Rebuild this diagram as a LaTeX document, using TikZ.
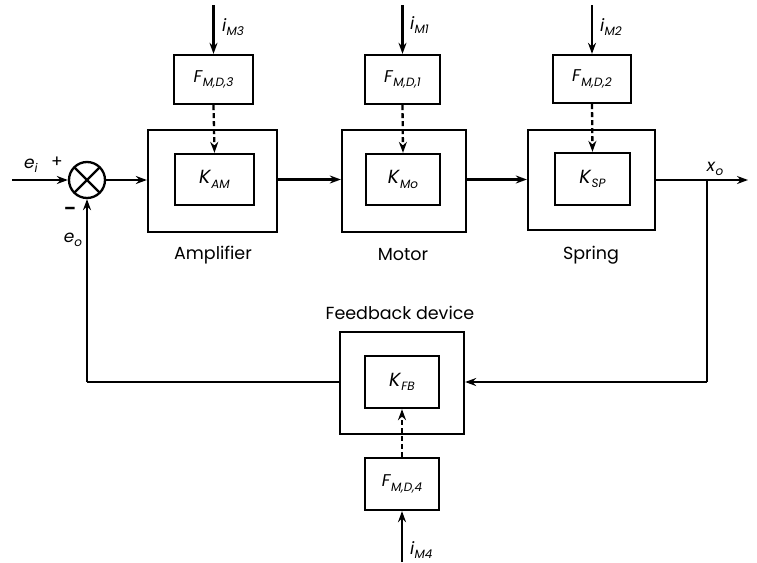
\documentclass[tikz,border=0pt]{standalone}
\usepackage{fontspec}
\setmainfont{Poppins}
\usetikzlibrary{arrows.meta,positioning}
\newcommand{\sym}[2]{\textit{#1}\raisebox{-0.45ex}{\fontsize{12}{12}\selectfont\textit{#2}}}
\begin{document}
\begin{tikzpicture}[x=1pt,y=-1pt,
  line width=2.3pt,
  >={Stealth[length=11pt,width=8pt]},
  outerbox/.style={draw,minimum width=#1,minimum height=102pt,inner sep=0pt},
  innerbox/.style={draw,minimum width=75pt,minimum height=51pt,inner sep=0pt,font=\fontsize{19}{19}\selectfont},
  fbox/.style={draw,minimum width=77pt,minimum height=49pt,inner sep=0pt,font=\fontsize{17}{17}\selectfont},
  caption/.style={font=\fontsize{17.5}{17.5}\selectfont,inner sep=0pt},
  sig/.style={font=\fontsize{17}{17}\selectfont,inner sep=0pt},
  dashedarrow/.style={->,dashed,dash pattern=on 5pt off 3pt}
]
\useasboundingbox (0,0) rectangle (757,562);

% summing junction
\node[draw,circle,minimum size=36pt,inner sep=0pt,
  path picture={\draw (path picture bounding box.north west) -- (path picture bounding box.south east)
                 (path picture bounding box.north east) -- (path picture bounding box.south west);}] (sum) at (87,180) {};
\coordinate (in) at (12,180);

% amplifier
\node[outerbox=129pt] (ampO) at (212.5,181) {};
\node[innerbox,minimum width=79pt] (amp) at (214.5,179.5) {\sym{K}{AM}};
\node[fbox,minimum width=79pt] (f3) at (213.5,79.5) {\sym{F}{M,D,3}};
\coordinate (i3) at (213.5,5);
\node[caption] (ampL) at (213,255) {Amplifier};

% motor
\node[outerbox=124pt] (motO) at (404,181) {};
\node[innerbox,minimum width=74pt] (mot) at (403,179.5) {\sym{K}{Mo}};
\node[fbox,minimum width=75pt] (f1) at (402.5,79.5) {\sym{F}{M,D,1}};
\coordinate (i1) at (402.5,5);
\node[caption] (motL) at (403,255) {Motor};

% spring
\node[outerbox=127pt,minimum height=100pt] (sprO) at (591.5,180) {};
\node[innerbox,minimum width=75pt,minimum height=52pt] (spr) at (592.5,179) {\sym{K}{SP}};
\node[fbox,minimum width=78pt,minimum height=48pt] (f2) at (592,79) {\sym{F}{M,D,2}};
\coordinate (i2) at (592,5);
\node[caption] (sprL) at (591,255) {Spring};

% feedback
\node[outerbox=124pt] (fbO) at (402,383) {};
\node[innerbox,minimum width=74pt,minimum height=52pt] (fb) at (402,382) {\sym{K}{FB}};
\node[fbox,minimum width=74pt,minimum height=52pt] (f4) at (402,484) {\sym{F}{M,D,4}};
\coordinate (i4) at (402,562);
\node[caption] (fbL) at (400,313) {Feedback device};

% output
\coordinate (out) at (748,180);
\coordinate (br) at (707,180);
\coordinate (brd) at (707,382);
\coordinate (fbl) at (87,382);

% signal labels
\node[sig] (ei) at (31,166) {\sym{e}{i}};
\node[sig] (plus) at (57,162) {+};
\node[sig] (minus) at (70,211) {\textbf{–}};
\node[sig] (eo) at (73,240) {\sym{e}{o}};
\node[sig,anchor=west] (im3) at (221,27) {\sym{i}{M3}};
\node[sig,anchor=west] (im1) at (409,25) {\sym{i}{M1}};
\node[sig,anchor=west] (im2) at (599,27) {\sym{i}{M2}};
\node[sig,anchor=west] (im4) at (409,550) {\sym{i}{M4}};
\node[sig] (xo) at (715,169) {\sym{x}{o}};

% connectors
\draw[->] (in) -- (sum.west);
\draw[->] (sum.east) -- (ampO.west |- sum.east);
\draw[->] (ampO.east |- amp) -- (motO.west |- amp);
\draw[->] (motO.east |- amp) -- (sprO.west |- amp);
\draw[->] (sprO.east |- sum) -- (out);
\draw (br) -- (brd);
\draw[->] (brd) -- (fbO.east |- brd);
\draw (fbO.west |- brd) -- (fbl);
\draw[->] (fbl) -- (sum.south);

\draw[->] (i3) -- (f3.north);
\draw[->] (i1) -- (f1.north);
\draw[->] (i2) -- (f2.north);
\draw[->] (i4) -- (f4.south);

\draw[dashedarrow] (f3.south) -- (amp.north);
\draw[dashedarrow] (f1.south) -- (mot.north);
\draw[dashedarrow] (f2.south) -- (spr.north);
\draw[dashedarrow] (f4.north) -- (fb.south);
\end{tikzpicture}
\end{document}
